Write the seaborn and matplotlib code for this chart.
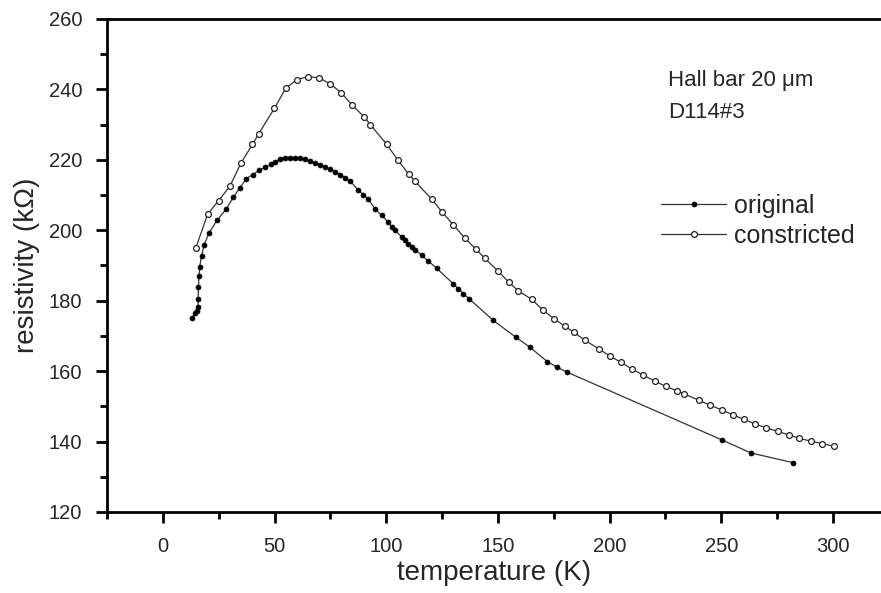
import matplotlib
matplotlib.use("Agg")
import matplotlib.pyplot as plt
import seaborn as sns
import pandas as pd
from matplotlib.ticker import MultipleLocator

# ---- data ----
orig_T = [13.1, 14.5, 15.2, 15.7, 15.8, 15.9, 16.2, 16.5, 17.3, 18.5, 20.6, 24.2, 28.2, 31.6,
          34.5, 37.4, 40.3, 43.0, 45.9, 48.3, 50.2, 52.5, 54.7, 57.0, 59.2, 61.4, 63.7, 65.9,
          68.1, 70.4, 72.6, 74.9, 77.1, 79.4, 81.6, 83.8, 87.5, 89.8, 92.0, 95.0, 98.0, 100.9,
          102.5, 103.9, 106.9, 108.4, 109.9, 111.4, 112.9, 115.9, 118.6, 122.6, 130.0, 132.3,
          134.5, 137.2, 147.9, 158.1, 164.3, 172.1, 176.3, 181.0, 250.2, 263.1, 282.1]
orig_R = [175.1, 176.4, 177.2, 178.1, 180.5, 184.0, 186.9, 189.7, 192.7, 195.9, 199.2, 202.8,
          205.9, 209.4, 212.1, 214.7, 215.8, 217.0, 217.9, 218.7, 219.4, 220.2, 220.5, 220.5,
          220.5, 220.4, 220.2, 219.7, 219.1, 218.6, 218.0, 217.3, 216.6, 215.8, 214.9, 214.0,
          211.4, 210.1, 208.8, 206.1, 204.2, 202.3, 200.9, 200.0, 198.1, 197.1, 196.2, 195.2,
          194.5, 192.9, 191.4, 189.2, 184.8, 183.4, 182.0, 180.5, 174.4, 169.6, 166.8, 162.7,
          161.2, 159.7, 140.5, 136.8, 134.0]

con_T = [14.8, 20.0, 24.9, 30.0, 34.9, 40.1, 42.9, 49.9, 55.0, 60.0, 65.0, 70.0, 75.0, 79.8,
         84.8, 90.1, 92.9, 100.2, 105.1, 110.1, 112.9, 120.4, 125.1, 130.0, 135.1, 140.2, 144.2,
         150.2, 155.0, 159.1, 165.1, 170.0, 175.1, 180.1, 184.0, 188.9, 195.2, 200.1, 205.1,
         210.0, 215.0, 220.1, 225.1, 230.1, 233.2, 240.1, 245.0, 250.2, 255.2, 260.1, 265.1,
         270.1, 275.2, 280.2, 285.0, 290.2, 295.3, 300.4]
con_R = [195.1, 204.5, 208.4, 212.5, 219.0, 224.4, 227.4, 234.6, 240.3, 242.8, 243.6, 243.3,
         241.5, 239.1, 235.5, 232.2, 230.0, 224.4, 220.0, 215.9, 213.9, 208.8, 205.1, 201.6,
         197.8, 194.6, 192.0, 188.3, 185.2, 182.8, 180.4, 177.4, 174.9, 172.7, 171.0, 168.8,
         166.3, 164.3, 162.5, 160.6, 158.9, 157.2, 155.7, 154.4, 153.6, 151.7, 150.3, 149.0,
         147.6, 146.3, 145.0, 143.9, 142.9, 141.9, 140.9, 140.1, 139.4, 138.7]

series_names = ["original", "constricted"]
x_ticks = [0, 50, 100, 150, 200, 250, 300]
y_ticks = [120, 140, 160, 180, 200, 220, 240, 260]

sns.set_style("white")
plt.rcParams["font.family"] = ["Liberation Sans", "DejaVu Sans"]

fig = plt.figure(figsize=(8.81, 5.93), dpi=100)
ax = fig.add_axes([0.1215, 0.1366, 0.8785, 0.8314])

df_o = pd.DataFrame({"T": orig_T, "R": orig_R})
df_c = pd.DataFrame({"T": con_T, "R": con_R})

sns.lineplot(data=df_o, x="T", y="R", ax=ax, estimator=None, sort=False,
             color="#333333", lw=0.9, marker="o", markersize=3.6,
             markerfacecolor="black", markeredgecolor="black", markeredgewidth=0.5,
             label=series_names[0])
sns.lineplot(data=df_c, x="T", y="R", ax=ax, estimator=None, sort=False,
             color="#333333", lw=0.9, marker="o", markersize=4.2,
             markerfacecolor="white", markeredgecolor="#222222", markeredgewidth=0.9,
             label=series_names[1])

ax.set_xlim(-25, 321.5)
ax.set_ylim(120, 260)
ax.set_xticks(x_ticks)
ax.set_yticks(y_ticks)
ax.xaxis.set_minor_locator(MultipleLocator(25))
ax.yaxis.set_minor_locator(MultipleLocator(10))

for s in ["left", "bottom", "top"]:
    ax.spines[s].set_visible(True)
    ax.spines[s].set_color("black")
    ax.spines[s].set_linewidth(2.0)
ax.spines["right"].set_visible(False)

ax.tick_params(axis="both", which="major", direction="out", length=8, width=2,
               labelsize=14.5, color="black", pad=10, top=False, right=False,
               bottom=True, left=True)
ax.tick_params(axis="both", which="minor", direction="out", length=5, width=2,
               color="black", top=False, right=False, bottom=True, left=True)

ax.set_xlabel("temperature (K)", fontsize=20, labelpad=3)
ax.set_ylabel("resistivity (kΩ)", fontsize=20, labelpad=6)

ax.text(0.725, 0.875, "Hall bar 20 μm", transform=ax.transAxes, fontsize=16,
        ha="left", va="center")
ax.text(0.725, 0.81, "D114#3", transform=ax.transAxes, fontsize=16,
        ha="left", va="center")

leg = ax.legend(loc="upper left", bbox_to_anchor=(0.703, 0.665), frameon=False,
                fontsize=18, handlelength=2.6, handletextpad=0.3, labelspacing=0.22,
                borderaxespad=0)

fig.savefig("out.png", dpi=100)
